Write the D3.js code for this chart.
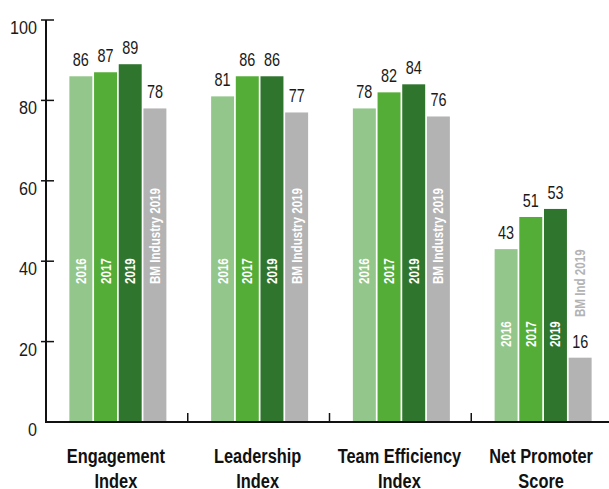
<!DOCTYPE html>
<html>
<head>
<meta charset="utf-8">
<script src="https://cdn.jsdelivr.net/npm/d3@7"></script>
<style>
  body { margin: 0; background: #fff; }
  svg text { font-family: "Liberation Sans", Arial, sans-serif; }
</style>
</head>
<body>
<svg id="chart" width="609" height="489"></svg>
<script>
// chart data
var categories = [["Engagement", "Index"], ["Leadership", "Index"], ["Team Efficiency", "Index"], ["Net Promoter", "Score"]];
var seriesNames = ["2016", "2017", "2019", "BM Industry 2019"];
var npsBenchName = "BM Ind 2019";
var values2016 = [86, 81, 78, 43];
var values2017 = [87, 86, 82, 51];
var values2019 = [89, 86, 84, 53];
var valuesBench = [78, 77, 76, 16];
var yTicks = [0, 20, 40, 60, 80, 100];
var colors = ["#93c68a", "#53ad36", "#30752e", "#b3b3b3"];

// no condensed font installed, so squeeze text horizontally
var narrow = 0.78;

var svg = d3.select("#chart");
var allSeries = [values2016, values2017, values2019, valuesBench];

var y = d3.scaleLinear().domain([0, 100]).range([422, 20]);
var x0 = d3.scaleBand().domain(d3.range(categories.length)).range([46, 613]);
var x1 = d3.scaleBand().domain(d3.range(seriesNames.length)).range([0, 97]).paddingInner(0.07);
var groupOffset = (x0.bandwidth() - 97) / 2 + 1;

function squeezed(sel, tx, ty, s, rot) {
    return sel.append("text")
        .attr("transform", "translate(" + tx + "," + ty + ")" + (rot ? " rotate(" + rot + ")" : "") + " scale(" + s + ",1)");
}

// bars
var groups = svg.selectAll(".group").data(categories).enter().append("g")
    .attr("class", "group")
    .attr("transform", function(d, i) { return "translate(" + (x0(i) + groupOffset) + ",0)"; });

groups.each(function(cat, gi) {
    var g = d3.select(this);
    var isNps = gi == categories.length - 1;
    // rotated labels start lower for the net promoter group
    var labelBottom = isNps ? y(0) - 75 : y(0) - 138;
    seriesNames.forEach(function(name, si) {
        var v = allSeries[si][gi];
        var bx = x1(si), bw = x1.bandwidth();
        g.append("rect")
            .attr("x", bx).attr("width", bw)
            .attr("y", y(v)).attr("height", y(0) - y(v))
            .attr("fill", colors[si]);
        squeezed(g, bx + bw / 2, y(v) - 10, narrow)
            .attr("text-anchor", "middle")
            .attr("font-size", 18.5)
            .attr("fill", "#1a1a1a")
            .text(v);
        var benchOutside = isNps && si == 3;
        var ly = benchOutside ? y(0) - 105 : labelBottom;
        squeezed(g, bx + bw / 2 + 5, ly, 0.8, -90)
            .attr("font-size", 14.5)
            .attr("font-weight", "bold")
            .attr("fill", benchOutside ? colors[3] : "#fff")
            .text(benchOutside ? npsBenchName : name);
    });
});

// x axis baseline and separators
svg.append("line")
    .attr("x1", 45).attr("x2", 609)
    .attr("y1", y(0)).attr("y2", y(0))
    .attr("stroke", "#111").attr("stroke-width", 2);

svg.selectAll(".sep").data(d3.range(1, categories.length)).enter().append("line")
    .attr("x1", function(i) { return x0(i); }).attr("x2", function(i) { return x0(i); })
    .attr("y1", y(0)).attr("y2", y(0) - 9)
    .attr("stroke", "#111").attr("stroke-width", 1.5);

// category labels
categories.forEach(function(d, i) {
    d.forEach(function(line, li) {
        squeezed(svg, x0(i) + x0.bandwidth() / 2 - 1, 463 + li * 25, narrow)
            .attr("text-anchor", "middle")
            .attr("font-size", 21)
            .attr("font-weight", "bold")
            .attr("fill", "#111")
            .text(line);
    });
});

// y axis
svg.append("line")
    .attr("x1", 46).attr("x2", 46)
    .attr("y1", y(100)).attr("y2", y(0))
    .attr("stroke", "#111").attr("stroke-width", 2);

svg.selectAll(".ytick").data(yTicks.slice(1)).enter().append("line")
    .attr("x1", 41).attr("x2", 54)
    .attr("y1", function(d) { return y(d); }).attr("y2", function(d) { return y(d); })
    .attr("stroke", "#111").attr("stroke-width", 1.5);

yTicks.forEach(function(d) {
    squeezed(svg, 37, y(d) + 14, 0.85)
        .attr("text-anchor", "end")
        .attr("font-size", 19)
        .attr("fill", "#1a1a1a")
        .text(d);
});
</script>
</body>
</html>
